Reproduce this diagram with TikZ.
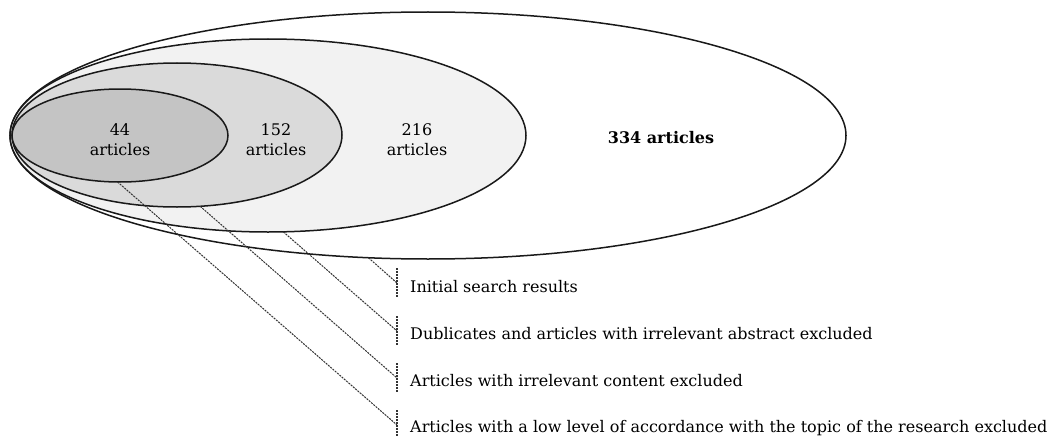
\documentclass[tikz,border=0pt]{standalone}
\usepackage{fontspec}
\setmainfont{DejaVu Serif}
\usepackage{tikz}
\usetikzlibrary{shapes.geometric,positioning}

\definecolor{setlight}{HTML}{F2F2F2}
\definecolor{setmid}{HTML}{DADADA}
\definecolor{setdark}{HTML}{C4C4C4}

\tikzset{
	set/.style={draw=black!90, line width=1.5pt, ellipse, inner sep=0pt, outer sep=0pt},
	count/.style={align=center, inner sep=0pt, font=\fontsize{16}{20}\selectfont},
	note/.style={anchor=base west, inner sep=0pt, font=\fontsize{16}{18}\selectfont},
	lead/.style={draw=black!80, line width=1pt, dash pattern=on 2pt off 1pt},
	bracket/.style={draw=black!80, line width=1.1pt, dash pattern=on 2pt off 1pt}
}

\begin{document}
\begin{tikzpicture}[x=1pt,y=-1pt]
	\useasboundingbox (0,0) rectangle (1052,436);
	\node[set, fill=white, minimum width=836pt, minimum height=247pt] (s334) at (428,135.5) {};
	\node[set, fill=setlight, minimum width=516pt, minimum height=193pt] (s216) at (268,135.5) {};
	\node[set, fill=setmid, minimum width=330pt, minimum height=144pt] (s152) at (177,135) {};
	\node[set, fill=setdark, minimum width=216pt, minimum height=93pt] (s44) at (120,135.5) {};
	\node[count] (n44) at (120,140) {44\\articles};
	\node[count] (n152) at (276,140) {152\\articles};
	\node[count] (n216) at (417,140) {216\\articles};
	\node[count, font=\fontsize{16}{20}\selectfont\bfseries] (n334) at (661,138) {334 articles};
	\node[note] (l1) at (410,292) {Initial search results};
	\node[note] (l2) at (410,339) {Dublicates and articles with irrelevant abstract excluded};
	\node[note] (l3) at (410,386) {Articles with irrelevant content excluded};
	\node[note] (l4) at (410,432) {Articles with a low level of accordance with the topic of the research excluded};
	\coordinate (t1) at (397,283);
	\coordinate (t2) at (397,331);
	\coordinate (t3) at (397,378);
	\coordinate (t4) at (397,425);
	\foreach \t in {t1,t2,t3,t4}
		\draw[bracket] ([yshift=15pt]\t) -- ([yshift=-15pt]\t);
	\draw[lead] (s334.-116.5) -- (t1);
	\draw[lead] (s216.-81.3) -- (t2);
	\draw[lead] (s152.-72.5) -- (t3);
	\draw[lead] (s44.-93.7) -- (t4);
\end{tikzpicture}
\end{document}
